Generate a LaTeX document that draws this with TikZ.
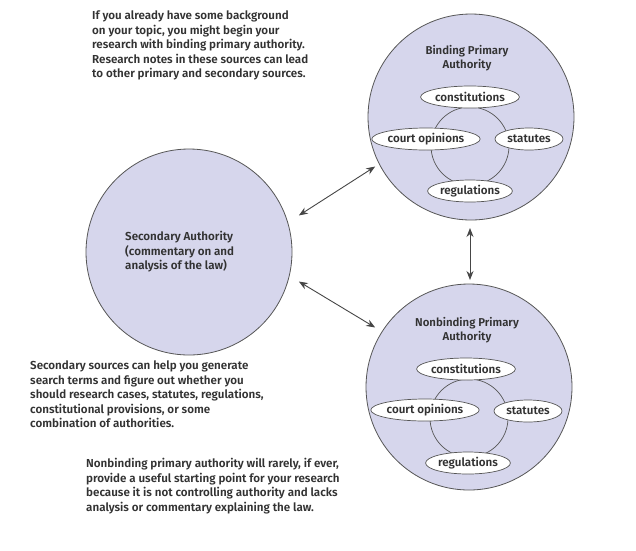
\documentclass[tikz,border=0pt]{standalone}
\usepackage{fontspec}
\IfFontExistsTF{Fira Sans SemiBold}{\setmainfont{Fira Sans SemiBold}}{\IfFontExistsTF{Fira Sans Medium}{\setmainfont{Fira Sans Medium}}{\setmainfont{Fira Sans}}}
\usetikzlibrary{shapes.geometric,arrows.meta}
\definecolor{circfill}{RGB}{214,214,236}
\definecolor{edge}{RGB}{85,85,85}
\definecolor{txt}{RGB}{50,50,50}
\definecolor{arr}{RGB}{70,70,70}
\tikzset{
  big/.style={circle,draw=edge,fill=circfill,line width=0.8pt,minimum size=206pt,inner sep=0pt},
  ring/.style={circle,draw=edge,line width=0.7pt,minimum size=78pt,inner sep=0pt},
  src/.style={ellipse,draw=edge,fill=white,line width=0.7pt,inner sep=0pt,minimum height=22pt,text=txt,font=\fontsize{11.6}{13}\selectfont},
  para/.style={anchor=north west,align=left,inner sep=0pt,text=txt,font=\fontsize{11.6}{14.5}\selectfont},
  ttl/.style={align=center,inner sep=0pt,text=txt,font=\fontsize{11.4}{14}\selectfont},
  dbl/.style={{Stealth[length=9pt,width=7pt]}-{Stealth[length=9pt,width=7pt]},draw=arr,line width=0.9pt,shorten >=1pt,shorten <=1pt}
}
\begin{document}
\begin{tikzpicture}[x=1pt,y=-1pt]
\useasboundingbox (0,0) rectangle (636,550);
% circles
\node[big] (sec) at (189,252) {};
\node[big] (bind) at (471,117) {};
\node[big] (nonb) at (469,387) {};
% secondary text
\node[para,anchor=west] (sectxt) at (125,252) {Secondary Authority\\(commentary on and\\analysis of the law)};
% binding
\node[ttl] (bindttl) at (467,58) {Binding Primary\\Authority};
\node[ring] (bring) at (470,146) {};
\node[src,minimum width=89pt] (bc) at (470,97) {constitutions};
\node[src,minimum width=93pt] (bo) at (426,139) {court opinions};
\node[src,minimum width=68pt] (bs) at (529,139) {statutes};
\node[src,minimum width=80pt] (br) at (470,191) {regulations};
% nonbinding
\node[ttl] (nonbttl) at (467,330) {Nonbinding Primary\\Authority};
\node[ring] (nring) at (469,418) {};
\node[src,minimum width=89pt] (nc) at (466,369) {constitutions};
\node[src,minimum width=93pt] (no) at (425,410) {court opinions};
\node[src,minimum width=68pt] (ns) at (528,411) {statutes};
\node[src,minimum width=80pt] (nr) at (468,463) {regulations};
% arrows
\coordinate (a1) at (298,216);
\coordinate (a2) at (376,166);
\coordinate (b1) at (298,281);
\coordinate (b2) at (376,328);
\coordinate (c1) at (470,227);
\coordinate (c2) at (470,281);
\draw[dbl] (a1) -- (a2);
\draw[dbl] (b1) -- (b2);
\draw[dbl] (c1) -- (c2);
% paragraphs
\node[para] (t1) at (92,11) {If you already have some background\\on your topic, you might begin your\\research with binding primary authority.\\Research notes in these sources can lead\\to other primary and secondary sources.};
\node[para] (t2) at (30,361) {Secondary sources can help you generate\\search terms and figure out whether you\\should research cases, statutes, regulations,\\constitutional provisions, or some\\combination of authorities.};
\node[para] (t3) at (86,458) {Nonbinding primary authority will rarely, if ever,\\provide a useful starting point for your research\\because it is not controlling authority and lacks\\analysis or commentary explaining the law.};
\end{tikzpicture}
\end{document}
